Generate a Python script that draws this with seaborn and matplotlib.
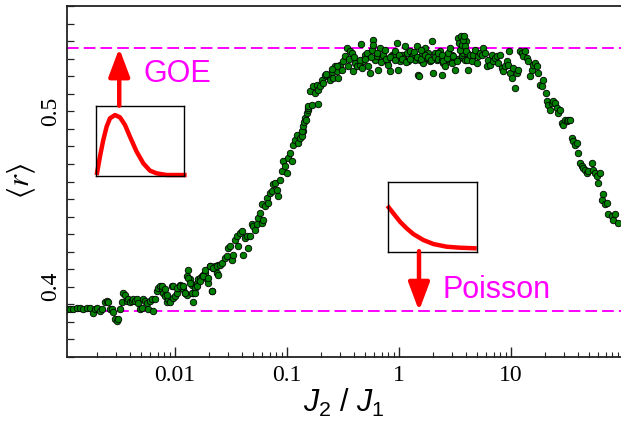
import numpy as np
import pandas as pd
import matplotlib
matplotlib.use("Agg")
import matplotlib.pyplot as plt
import seaborn as sns
from matplotlib.ticker import FixedLocator, LogLocator, MultipleLocator, NullFormatter

# ---------------- data ----------------
# log10(J2/J1) and <r>, grouped by region of the curve
log_ratio_low = [-2.962,-2.938,-2.908,-2.878,-2.848,-2.818,-2.789,-2.759,-2.729,-2.714,
                 -2.699,-2.670,-2.655,-2.625,-2.610,-2.595,-2.580,-2.565,-2.551,-2.536,
                 -2.521,-2.506,-2.491,-2.476,-2.461,-2.446,-2.432,-2.417,-2.402,-2.387,
                 -2.372,-2.357,-2.342,-2.328,-2.313,-2.298,-2.283,-2.268,-2.253,-2.238,
                 -2.223,-2.208,-2.193,-2.178,-2.164,-2.149,-2.134,-2.119,-2.104,-2.089,
                 -2.074,-2.060,-2.045,-2.030,-2.015,-2.000,-1.985,-1.970,-1.955,-1.940,
                 -1.926,-1.911,-1.896,-1.881,-1.896,-1.866,-1.851,-1.836,-1.836,-1.822,
                 -1.807,-1.792,-1.777,-1.762,-1.747,-1.732,-1.717,-1.703,-1.688,-1.673,
                 -1.658,-1.643,-1.628,-1.613]
r_low = [0.3871,0.3873,0.3875,0.3877,0.3877,0.3871,0.3880,0.3882,0.3852,0.3871,
         0.3882,0.3861,0.3871,0.3912,0.3918,0.3912,0.3875,0.3871,0.3855,0.3818,
         0.3804,0.3814,0.3871,0.3912,0.3966,0.3956,0.3918,0.3928,0.3912,0.3918,
         0.3928,0.3918,0.3930,0.3909,0.3871,0.3880,0.3930,0.3918,0.3909,0.3871,
         0.3918,0.3928,0.3861,0.3928,0.3975,0.3994,0.4003,0.3985,0.3966,0.3946,
         0.3912,0.3928,0.3912,0.4003,0.3937,0.3946,0.3966,0.3994,0.4013,0.4003,
         0.3985,0.3966,0.3956,0.4098,0.4060,0.4042,0.4013,0.3912,0.3966,0.3994,
         0.4023,0.4042,0.4051,0.4060,0.4070,0.4080,0.4042,0.4023,0.4117,0.3975,
         0.4108,0.4117,0.4080,0.4127]

log_ratio_rise = [-2.119,-2.089,-2.074,-2.015,-1.985,-1.955,-1.926,-1.911,-1.881,-1.866,
                  -1.851,-1.821,-1.806,-1.777,-1.747,-1.732,-1.702,-1.688,-1.673,-1.658,
                  -1.628,-1.613,-1.598,-1.583,-1.554,-1.539,-1.524,-1.509,-1.494,-1.479,
                  -1.464,-1.449,-1.435,-1.420,-1.405,-1.390,-1.375,-1.360,-1.345,-1.330,
                  -1.315,-1.301,-1.286,-1.271,-1.256,-1.241,-1.226,-1.211,-1.226,-1.196,
                  -1.181,-1.167,-1.152,-1.137,-1.122,-1.107,-1.092,-1.077,-1.063,-1.048,
                  -1.033,-1.018,-1.003,-0.988,-0.973,-0.958,-0.943,-0.929,-0.914,-0.899,
                  -0.884,-0.854,
                  -0.869,-0.862,-0.854,-0.846,-0.839,-0.831,-0.824,-0.816,-0.809]
r_rise = [0.4003,0.3985,0.3956,0.4003,0.3994,0.4003,0.4003,0.3966,0.4051,0.4022,
          0.3966,0.3966,0.4003,0.4032,0.4060,0.4098,0.4051,0.4117,0.3975,0.4108,
          0.4117,0.4070,0.4127,0.4136,0.4165,0.4174,0.4222,0.4231,0.4155,0.4184,
          0.4269,0.4288,0.4231,0.4307,0.4317,0.4184,0.4279,0.4288,0.4222,0.4288,
          0.4355,0.4345,0.4326,0.4355,0.4393,0.4421,0.4364,0.4383,0.4469,0.4459,
          0.4507,0.4478,0.4535,0.4544,0.4583,0.4592,0.4554,0.4516,0.4611,0.4658,
          0.4715,0.4687,0.4649,0.4735,0.4763,0.4715,0.4810,0.4839,0.4867,0.4820,
          0.4848,0.4886,
          0.4858,0.4890,0.4915,0.4940,0.4962,0.4950,0.4991,0.5005,0.5019]

log_ratio_top = [-0.810,-0.780,-0.720,-0.795,-0.765,-0.750,-0.735,-0.720,-0.705,-0.690,
                 -0.676,-0.661,-0.646,-0.631,-0.616,-0.601,-0.586,-0.571,-0.557,-0.542,
                 -0.527,-0.512,-0.497,-0.482,-0.467,-0.452,-0.438,-0.423,-0.408,-0.393,
                 -0.378,-0.348,-0.342,-0.333,-0.319,-0.304,-0.289,-0.274,-0.259,-0.244,
                 -0.235,-0.229,-0.214,-0.199,-0.185,-0.170,-0.155,-0.140,-0.125,-0.110,
                 -0.095,-0.080,-0.065,-0.051,-0.036,-0.021,-0.006,0.009,0.024,0.039,
                 0.054,0.068,0.083,0.098,0.113,0.128,0.143,0.158,0.173,0.182,
                 0.188,0.203,0.217,0.232,0.247,0.262,0.277,0.292,0.307,0.321,
                 0.336,0.351,0.366,0.381,0.396,0.411,0.426,0.441]
r_top = [0.5028,0.5038,0.5044,0.5114,0.5142,0.5105,0.5152,0.5124,0.5142,0.5181,
         0.5162,0.5209,0.5199,0.5209,0.5181,0.5222,0.5190,0.5256,0.5228,0.5190,
         0.5266,0.5237,0.5285,0.5313,0.5361,0.5256,0.5342,0.5333,0.5228,0.5276,
         0.5256,0.5266,0.5386,0.5247,0.5285,0.5323,0.5333,0.5256,0.5219,0.5351,
         0.5408,0.5380,0.5294,0.5313,0.5237,0.5361,0.5304,0.5323,0.5351,0.5285,
         0.5266,0.5228,0.5323,0.5313,0.5342,0.5390,0.5237,0.5285,0.5323,0.5304,
         0.5370,0.5333,0.5285,0.5342,0.5313,0.5323,0.5294,0.5370,0.5209,0.5199,
         0.5294,0.5323,0.5276,0.5361,0.5304,0.5333,0.5285,0.5399,0.5219,0.5333,
         0.5294,0.5313,0.5342,0.5209,0.5276,0.5313,0.5323,0.5285]

log_ratio_core = [-0.45,-0.40,-0.35,-0.30,-0.25,-0.20,-0.16,-0.12,-0.08,-0.04,
                  0.0,0.03,0.06,0.10,0.13,0.16,0.20,0.23,0.26,0.29,
                  0.32,0.35,0.38,0.41,0.44,0.47,0.50,0.53,0.56,0.59,
                  0.62,0.65,0.56,0.58,0.60,0.57,0.61,0.35,0.20,-0.55,
                  -0.60,-0.65]
r_core = [0.5300,0.5310,0.5290,0.5300,0.5310,0.5330,0.5280,0.5300,0.5310,0.5290,
          0.5320,0.5300,0.5280,0.5300,0.5340,0.5310,0.5300,0.5320,0.5310,0.5290,
          0.5310,0.5300,0.5290,0.5310,0.5300,0.5320,0.5290,0.5300,0.5310,0.5290,
          0.5300,0.5310,0.5320,0.5360,0.5400,0.5330,0.5330,0.5330,0.5350,0.5260,
          0.5240,0.5210]

log_ratio_fall = [0.381,0.396,0.411,0.426,0.440,0.455,0.470,0.485,0.500,0.515,
                  0.530,0.539,0.545,0.551,0.560,0.574,0.580,0.589,0.598,0.604,
                  0.619,0.634,0.649,0.664,0.679,0.693,0.708,0.723,0.738,0.753,
                  0.768,0.783,0.798,0.813,0.827,0.842,0.857,0.872,0.887,0.902,
                  0.917,0.932,0.946,0.961,0.976,0.985,0.991,1.006,1.021,1.036,
                  1.051,1.065,1.080,1.095,1.110,1.125,1.140,1.155,1.170,1.185,
                  1.199,1.214,1.229,1.244,1.259,1.274,1.289,1.313,1.318,1.333,
                  1.348,1.363,1.378,1.393,1.408,1.423,1.438,1.452,1.467,1.482,
                  1.497,1.512,1.527,1.542,1.557,1.571,1.586,1.601,1.616,1.631,
                  1.646,1.661,1.676,1.690,1.720,1.735,1.750,1.765,1.780,1.795,
                  1.818,1.810,1.839,1.854,1.869,1.899,1.914,1.929,1.958]
r_fall = [0.5323,0.5285,0.5256,0.5304,0.5333,0.5361,0.5276,0.5313,0.5237,0.5285,
          0.5418,0.5390,0.5351,0.5427,0.5380,0.5408,0.5427,0.5370,0.5342,0.5294,
          0.5237,0.5323,0.5285,0.5323,0.5351,0.5276,0.5313,0.5333,0.5323,0.5361,
          0.5333,0.5256,0.5294,0.5266,0.5323,0.5285,0.5304,0.5313,0.5276,0.5323,
          0.5247,0.5228,0.5256,0.5285,0.5266,0.5342,0.5219,0.5190,0.5247,0.5133,
          0.5219,0.5237,0.5342,0.5333,0.5313,0.5342,0.5304,0.5285,0.5199,0.5237,
          0.5266,0.5276,0.5256,0.5219,0.5152,0.5142,0.5181,0.5105,0.5057,0.5038,
          0.5010,0.5048,0.5057,0.5048,0.5019,0.4991,0.5010,0.4934,0.4924,0.4953,
          0.4943,0.4953,0.4953,0.4848,0.4829,0.4810,0.4820,0.4763,0.4706,0.4687,
          0.4678,0.4668,0.4649,0.4658,0.4706,0.4668,0.4649,0.4630,0.4592,0.4649,
          0.4526,0.4497,0.4469,0.4478,0.4412,0.4402,0.4383,0.4412,0.4364]

goe_value = 0.5359
poisson_value = 0.3863

x_ticks = [0.01, 0.1, 1, 10]
x_tick_labels = ["0.01", "0.1", "1", "10"]
y_ticks = [0.4, 0.5]
y_tick_labels = ["0.4", "0.5"]

# inset sketches (normalised coordinates)
goe_u = [0.008,0.045,0.083,0.121,0.159,0.216,0.273,0.330,0.386,0.462,0.538,0.614,0.689,0.803,0.917,1.03]
goe_v = [0.014,0.276,0.514,0.705,0.824,0.871,0.838,0.729,0.562,0.348,0.181,0.076,0.038,0.014,0.014,0.014]
poi_u = [-0.01,0.057,0.132,0.208,0.283,0.396,0.509,0.660,0.811,1.0]
poi_v = [0.657,0.548,0.429,0.333,0.252,0.167,0.110,0.071,0.057,0.048]

# ---------------- figure ----------------
sns.set_style("ticks")
plt.rcParams["font.family"] = ["Liberation Serif", "DejaVu Serif"]
plt.rcParams["mathtext.fontset"] = "custom"
plt.rcParams["mathtext.rm"] = "Liberation Sans"
plt.rcParams["mathtext.it"] = "Liberation Sans:italic"
plt.rcParams["text.color"] = "black"
plt.rcParams["axes.labelcolor"] = "black"

log_all = np.concatenate([log_ratio_low, log_ratio_rise, log_ratio_top, log_ratio_core, log_ratio_fall])
r_all = np.concatenate([r_low, r_rise, r_top, r_core, r_fall])
df = pd.DataFrame({"ratio": 10.0 ** log_all, "r": r_all})

W, H = 621, 424
fig = plt.figure(figsize=(W / 100, H / 100), dpi=100)
ax = fig.add_axes([67 / W, 1 - 357 / H, 554 / W, 351 / H])

ax.axhline(goe_value, color="#ff00ff", lw=1.4, ls=(0, (6, 2.6)), zorder=1)
ax.axhline(poisson_value, color="#ff00ff", lw=1.4, ls=(0, (6, 2.6)), zorder=1)

sns.scatterplot(data=df, x="ratio", y="r", color="#008000", edgecolor="black",
                linewidth=0.6, s=22, ax=ax, zorder=3, legend=False)

ax.set_xscale("log")
ax.set_xlim(10 ** (-2.964), 10 ** (1.982))
ax.set_ylim(0.36, 0.56)

ax.xaxis.set_major_locator(FixedLocator(x_ticks))
ax.set_xticklabels(x_tick_labels)
ax.xaxis.set_minor_locator(LogLocator(base=10, subs=np.arange(2, 10), numticks=20))
ax.xaxis.set_minor_formatter(NullFormatter())
ax.yaxis.set_major_locator(FixedLocator(y_ticks))
ax.set_yticklabels(y_tick_labels, rotation=90, va="center")
ax.yaxis.set_minor_locator(MultipleLocator(0.01))

ax.tick_params(which="both", direction="in", top=False, right=False,
               color="#222222", labelcolor="black")
ax.tick_params(axis="x", which="major", length=7, width=1.0, labelsize=17, pad=6)
ax.tick_params(axis="x", which="minor", length=3.5, width=0.8)
ax.tick_params(axis="y", which="both", length=5, width=0.9, labelsize=17, pad=4)

for side in ["left", "bottom", "top"]:
    ax.spines[side].set_linewidth(1.3)
    ax.spines[side].set_color("#222222")
ax.spines["right"].set_visible(False)

ax.set_xlabel(r"$J_2\ /\ J_1$", fontsize=22, math_fontfamily="custom")
ax.xaxis.set_label_coords(0.5, -0.085)
ax.set_ylabel(r"$\langle r\rangle$", fontsize=22, math_fontfamily="stix")
ax.yaxis.set_label_coords(-0.052, 0.5)

# insets
ins1 = ax.inset_axes([0.0523, 0.5157, 0.1588, 0.1994])
ins2 = ax.inset_axes([0.580, 0.300, 0.1596, 0.1994])
for ins, u, v in [(ins1, goe_u, goe_v), (ins2, poi_u, poi_v)]:
    ins.plot(u, v, color="red", lw=3.2, clip_on=False, solid_capstyle="butt")
    ins.set_xlim(0, 1)
    ins.set_ylim(0, 1)
    ins.set_xticks([])
    ins.set_yticks([])
    ins.set_facecolor("white")
    for sp in ins.spines.values():
        sp.set_linewidth(1.0)
        sp.set_color("black")
    ins.set_zorder(4)

# arrows
arrow_style = dict(arrowstyle="-|>,head_length=0.85,head_width=0.32", color="red",
                   lw=3.2, shrinkA=0, shrinkB=0, mutation_scale=20)
ax.annotate("", xy=(0.00318, goe_value), xytext=(0.00318, 0.5032),
            arrowprops=arrow_style, zorder=5)
ax.annotate("", xy=(1.509, poisson_value), xytext=(1.509, 0.4203),
            arrowprops=arrow_style, zorder=5)

ax.text(0.00528, 0.5165, "GOE", color="#ff00ff", fontsize=22,
        family="Liberation Sans", ha="left", va="baseline")
ax.text(2.47, 0.3939, "Poisson", color="#ff00ff", fontsize=22,
        family="Liberation Sans", ha="left", va="baseline")

fig.savefig("out.png", dpi=100)
